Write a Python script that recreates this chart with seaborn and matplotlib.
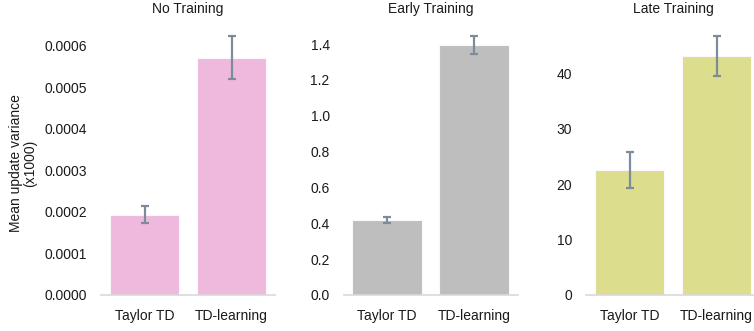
import matplotlib
matplotlib.use("Agg")
import matplotlib.pyplot as plt
import matplotlib.ticker as mticker
import seaborn as sns

# Methods compared in each training stage
categories = ["Taylor TD", "TD-learning"]
stages = ["No Training", "Early Training", "Late Training"]

# Mean update variance (x1000) and standard error per stage
no_training_mean = [0.000193, 0.000571]
no_training_err = [0.0000205, 0.000052]
early_training_mean = [0.420, 1.396]
early_training_err = [0.017, 0.049]
late_training_mean = [22.6, 43.1]
late_training_err = [3.25, 3.65]

stage_colors = ["#efb9de", "#bebebe", "#dddd8e"]
tick_steps = [0.0001, 0.2, 10]
tick_formats = ["{x:.4f}", "{x:.1f}", "{x:.0f}"]
tick_max = [0.0006, 1.4, 40]

sns.set_theme(style="white")
plt.rcParams["font.family"] = ["Liberation Sans", "DejaVu Sans"]

fig = plt.figure(figsize=(7.54, 3.31), dpi=100)
lefts = [0.134, 0.4556, 0.7772]
width = 0.2308
bottom = 0.1088
height = 0.828

means = [no_training_mean, early_training_mean, late_training_mean]
errs = [no_training_err, early_training_err, late_training_err]

for i, stage in enumerate(stages):
    ax = fig.add_axes([lefts[i], bottom, width, height])
    sns.barplot(x=categories, y=means[i], ax=ax, color=stage_colors[i],
                saturation=1, width=0.8, errorbar=None,
                edgecolor="#fbf7fa", linewidth=0.8)
    ax.errorbar(x=[0, 1], y=means[i], yerr=errs[i], fmt="none",
                ecolor="#7d8b9b", elinewidth=1.6, capsize=2.6, capthick=1.6,
                zorder=5)
    top = max(m + e for m, e in zip(means[i], errs[i]))
    ax.set_xlim(-0.5, 1.5)
    ax.yaxis.set_major_locator(mticker.MultipleLocator(tick_steps[i]))
    ax.yaxis.set_major_formatter(mticker.StrMethodFormatter(tick_formats[i]))
    ax.set_yticks([t for t in ax.get_yticks() if -1e-12 <= t <= tick_max[i] * 1.0001])
    ax.set_ylim(0, top * 1.058)
    ax.tick_params(axis="both", length=0, labelsize=10, colors="#1a1a1a", pad=10)
    for side in ["left", "right", "top"]:
        ax.spines[side].set_visible(False)
    ax.spines["bottom"].set_color("#d9d9d9")
    ax.spines["bottom"].set_linewidth(1.2)
    ax.set_title(stage, fontsize=10, color="#1a1a1a", pad=6)
    ax.set_xlabel("")
    if i == 0:
        ax.set_ylabel("Mean update variance\n(x1000)", fontsize=10,
                      color="#1a1a1a", linespacing=1.0)
        ax.yaxis.set_label_coords(-0.37, 0.48)
    else:
        ax.set_ylabel("")

fig.savefig("out.png", dpi=100)
